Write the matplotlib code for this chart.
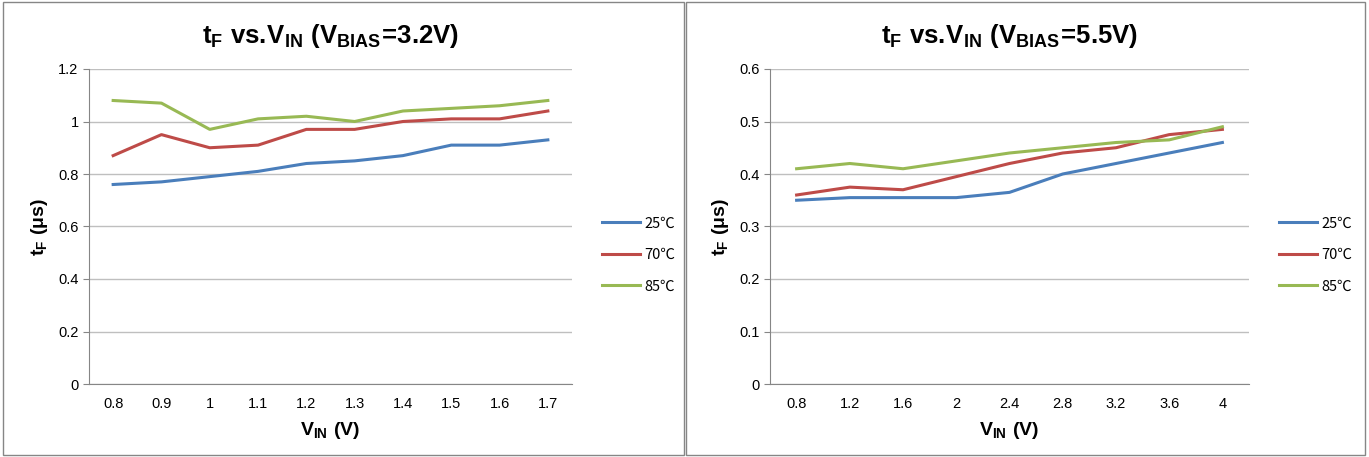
import matplotlib
matplotlib.use("Agg")
import matplotlib.pyplot as plt
from matplotlib.patches import Rectangle

plt.rcParams['font.family'] = ['Liberation Sans', 'Noto Sans CJK SC', 'DejaVu Sans']
plt.rcParams['mathtext.fontset'] = 'custom'
plt.rcParams['mathtext.rm'] = 'Liberation Sans:bold'
plt.rcParams['mathtext.it'] = 'Liberation Sans:bold'
plt.rcParams['mathtext.bf'] = 'Liberation Sans:bold'

# Left chart data (V_BIAS = 3.2V)
vin_left = ['0.8', '0.9', '1', '1.1', '1.2', '1.3', '1.4', '1.5', '1.6', '1.7']
left_25 = [0.76, 0.77, 0.79, 0.81, 0.84, 0.85, 0.87, 0.91, 0.91, 0.93]
left_70 = [0.87, 0.95, 0.90, 0.91, 0.97, 0.97, 1.00, 1.01, 1.01, 1.04]
left_85 = [1.08, 1.07, 0.97, 1.01, 1.02, 1.00, 1.04, 1.05, 1.06, 1.08]

# Right chart data (V_BIAS = 5.5V)
vin_right = ['0.8', '1.2', '1.6', '2', '2.4', '2.8', '3.2', '3.6', '4']
right_25 = [0.35, 0.355, 0.355, 0.355, 0.365, 0.40, 0.42, 0.44, 0.46]
right_70 = [0.36, 0.375, 0.37, 0.395, 0.42, 0.44, 0.45, 0.475, 0.485]
right_85 = [0.41, 0.42, 0.41, 0.425, 0.44, 0.45, 0.46, 0.465, 0.49]

series_labels = ['25℃', '70℃', '85℃']
colors = ['#4a7ebb', '#be4b48', '#98b954']

fig = plt.figure(figsize=(13.69, 4.57), dpi=100)

# panel borders
for x0, w in [(3 / 1369, 681 / 1369), (686 / 1369, 679 / 1369)]:
    fig.patches.append(Rectangle((x0, 2 / 457), w, 453 / 457, transform=fig.transFigure,
                                 fill=False, edgecolor='#868686', linewidth=1.0))


def draw(ax, cats, series, ymax, ystep, title, legend_x):
    xs = list(range(len(cats)))
    for vals, lab, c in zip(series, series_labels, colors):
        ax.plot(xs, vals, color=c, linewidth=2.2, label=lab, solid_joinstyle='round')
    ax.set_xlim(-0.5, len(cats) - 0.5)
    ax.set_ylim(0, ymax)
    n = int(round(ymax / ystep))
    yt = [i * ystep for i in range(n + 1)]
    ax.set_yticks(yt)
    ax.set_yticklabels(['0' if v == 0 else ('%g' % round(v, 2)) for v in yt])
    ax.set_xticks(xs)
    ax.set_xticklabels(cats)
    ax.grid(axis='y', color='#bfbfbf', linewidth=1.0)
    ax.set_axisbelow(True)
    for s in ['top', 'right']:
        ax.spines[s].set_visible(False)
    for s in ['left', 'bottom']:
        ax.spines[s].set_color('#868686')
    ax.tick_params(axis='both', colors='#868686', labelcolor='black', labelsize=10.5, length=4)
    ax.tick_params(axis='x', length=0, pad=9)
    ax.set_title(title, fontsize=18.5, pad=19)
    ax.set_xlabel(r'$\mathrm{V_{IN}\ (V)}$', fontsize=14, labelpad=7)
    ax.set_ylabel(r'$\mathrm{t_F\ (\mu s)}$', fontsize=14, labelpad=6)
    leg = ax.legend(loc='center left', bbox_to_anchor=(legend_x, 0.41), frameon=False,
                    fontsize=10.5, handlelength=2.6, labelspacing=1.2, handletextpad=0.3)
    for t in leg.get_texts():
        t.set_fontfamily(['Noto Sans CJK SC', 'DejaVu Sans'])


ax1 = fig.add_axes([89 / 1369, 73 / 457, 483 / 1369, 315 / 457])
draw(ax1, vin_left, [left_25, left_70, left_85], 1.2, 0.2,
     r'$\mathrm{t_F\ vs.\!V_{IN}\ (V_{BIAS}\!=\!3.2V)}$', 1.035)

ax2 = fig.add_axes([770 / 1369, 73 / 457, 479 / 1369, 315 / 457])
draw(ax2, vin_right, [right_25, right_70, right_85], 0.6, 0.1,
     r'$\mathrm{t_F\ vs.\!V_{IN}\ (V_{BIAS}\!=\!5.5V)}$', 1.035)

fig.savefig('out.png', dpi=100)
